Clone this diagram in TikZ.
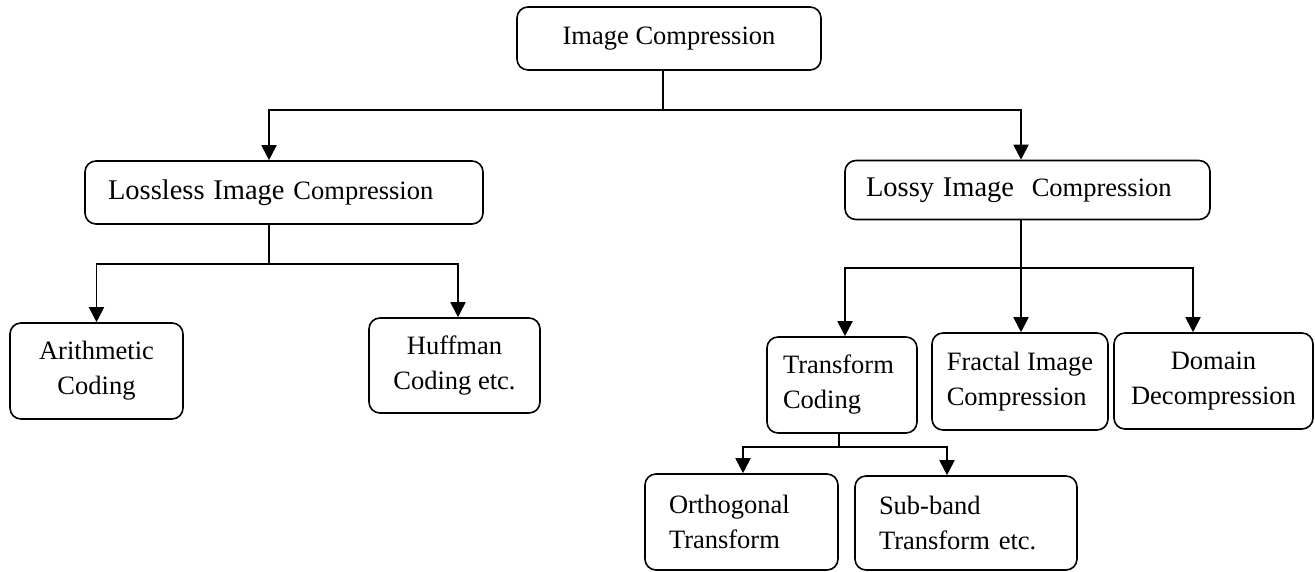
\documentclass[tikz,border=0pt]{standalone}
\usepackage{fontspec}
\setmainfont{Liberation Serif}
\usetikzlibrary{arrows.meta}

\newcommand{\bigwords}[1]{{\fontsize{28.5}{35}\selectfont #1}}

\begin{document}
\begin{tikzpicture}[x=1pt,y=-1pt,
  box/.style={draw, line width=1.6pt, rounded corners=11pt, inner sep=0pt,
    align=center, font=\fontsize{26.5}{35}\selectfont},
  leftbox/.style={box, align=left},
  link/.style={line width=1.3pt},
  arrow/.style={line width=1.8pt, -{Triangle[width=15pt,length=15pt]}}]

  \useasboundingbox (0,0) rectangle (1315,571);

  % top level
  \node[box, minimum width=304pt, minimum height=63pt] (root) at (669,38.5)
    {Image Compression};

  % second level
  \node[leftbox, text width=352pt, inner xsep=23pt, minimum height=63pt] (lossless) at (284,192.5)
    {\bigwords{Lossless Image} Compression};
  \node[leftbox, text width=323pt, inner xsep=21pt, minimum height=59pt] (lossy) at (1027.5,190)
    {\bigwords{Lossy Image\ \ }Compression};

  % lossless methods
  \node[box, minimum width=173pt, minimum height=96pt] (arith) at (96.5,371)
    {Arithmetic\\Coding};
  \node[box, minimum width=171pt, minimum height=95pt] (huffman) at (454.5,365.5)
    {Huffman\\Coding etc.};

  % lossy methods
  \node[leftbox, text width=118pt, inner xsep=16pt, minimum height=96pt] (transform) at (842,385)
    {Transform\\Coding};
  \node[leftbox, minimum width=176pt, minimum height=97pt] (fractal) at (1020,381.5)
    {Fractal Image\\Compression};
  \node[box, minimum width=199pt, minimum height=96pt] (domain) at (1213.5,381)
    {Domain\\Decompression};

  % transform coding methods
  \node[leftbox, text width=145pt, inner xsep=24pt, minimum height=96pt] (ortho) at (741.5,522)
    {Orthogonal\\Transform};
  \node[leftbox, text width=174pt, inner xsep=24pt, minimum height=94pt] (subband) at (966,523)
    {Sub-band\\Transform etc.};

  % junctions
  \coordinate (j0) at ([xshift=-6pt,yshift=-39pt]root.south);
  \coordinate (j1) at ([xshift=-15pt,yshift=-39pt]lossless.south);
  \coordinate (j2) at ([xshift=-6.5pt,yshift=-48pt]lossy.south);
  \coordinate (j3) at ([xshift=-3pt,yshift=-13pt]transform.south);

  % root to both kinds
  \draw[link] ([xshift=-6pt]root.south) -- (j0);
  \draw[arrow] (j0) -| ([xshift=-15pt]lossless.north);
  \draw[arrow] (j0) -| ([xshift=-6.5pt]lossy.north);

  % lossless branch
  \draw[link] ([xshift=-15pt]lossless.south) -- (j1);
  \draw[arrow] (j1) -| (arith.north);
  \draw[arrow] (j1) -| ([xshift=3.5pt]huffman.north);

  % lossy branch
  \draw[link] ([xshift=-6.5pt]lossy.south) -- (j2);
  \draw[arrow] (j2) -| ([xshift=3pt]transform.north);
  \draw[arrow] (j2) -- (j2 |- fractal.north);
  \draw[arrow] (j2) -| ([xshift=-20.5pt]domain.north);

  % transform coding branch
  \draw[link] ([xshift=-3pt]transform.south) -- (j3);
  \draw[arrow] (j3) -| ([xshift=1.5pt]ortho.north);
  \draw[arrow] (j3) -| ([xshift=-19pt]subband.north);

\end{tikzpicture}
\end{document}
